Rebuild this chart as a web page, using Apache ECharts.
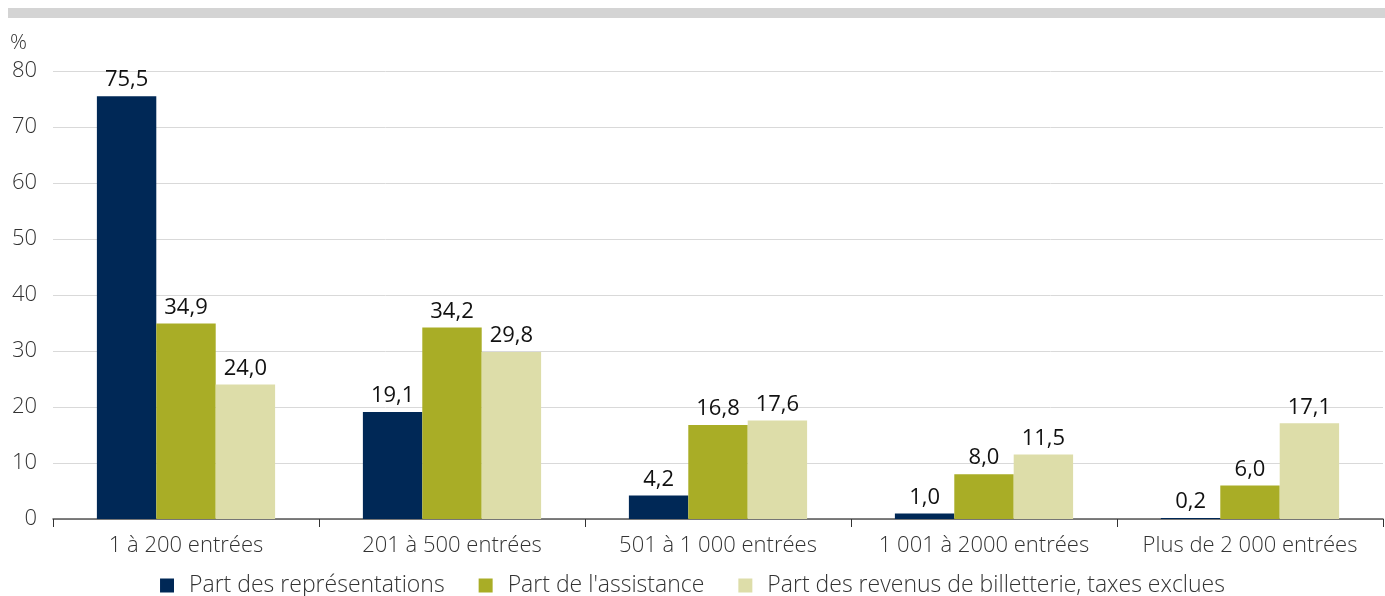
<!DOCTYPE html>
<html><head><meta charset="utf-8">
<script src="https://cdn.jsdelivr.net/npm/echarts@6/dist/echarts.min.js"></script>
<style>html,body{margin:0;padding:0;background:#fff}#c{width:1385px;height:596px}</style>
</head><body><div id="c"></div>
<script>
const categories = ['1 à 200 entrées','201 à 500 entrées','501 à 1 000 entrées','1 001 à 2000 entrées','Plus de 2 000 entrées'];
const seriesNames = ['Part des représentations',"Part de l'assistance",'Part des revenus de billetterie, taxes exclues'];
const representations = [75.5,19.1,4.2,1.0,0.2];
const assistance = [34.9,34.2,16.8,8.0,6.0];
const revenus = [24.0,29.8,17.6,11.5,17.1];
const yTicks = [0,10,20,30,40,50,60,70,80];
const colors = ['#002856','#a9ad26','#dddda9'];
const font = 'Open Sans';
const chart = echarts.init(document.getElementById('c'));
const lbl = {show:true,position:'top',distance:5,fontFamily:font,fontSize:22,color:'#111',formatter:p=>p.value.toFixed(1).replace('.',',')};
const mk = (name,data,i)=>({name,type:'bar',data,barGap:0,barCategoryGap:'33%',itemStyle:{color:colors[i]},label:lbl,emphasis:{disabled:true}});
chart.setOption({
  animation:false,
  graphic:[{type:'rect',shape:{x:8,y:8,width:1377,height:10},style:{fill:'#d4d4d4'}},
           {type:'text',left:10,top:33,style:{text:'%',fontFamily:font,fontSize:21,fontWeight:300,fill:'#333'}}],
  legend:{top:569,left:'center',itemWidth:14,itemHeight:14,itemGap:34,icon:'rect',
    textStyle:{fontFamily:font,fontSize:23,fontWeight:300,color:'#333',padding:[0,0,0,10]},data:seriesNames},
  grid:{left:53,right:2,top:71,bottom:77,containLabel:false},
  xAxis:{type:'category',data:categories,
    axisLine:{lineStyle:{color:'#555',width:1.5}},
    axisTick:{show:true,length:8,lineStyle:{color:'#333'}},
    axisLabel:{interval:0,fontFamily:font,fontSize:22,fontWeight:300,color:'#333',margin:16}},
  yAxis:{type:'value',min:0,max:80,interval:10,
    axisLine:{show:false},axisTick:{show:false},
    splitLine:{lineStyle:{color:'#d9d9d9'}},
    axisLabel:{fontFamily:font,fontSize:22,fontWeight:300,color:'#333',margin:16,formatter:v=>yTicks.includes(v)?String(v):''}},
  series:[mk(seriesNames[0],representations,0),mk(seriesNames[1],assistance,1),mk(seriesNames[2],revenus,2)]
});
</script></body></html>
